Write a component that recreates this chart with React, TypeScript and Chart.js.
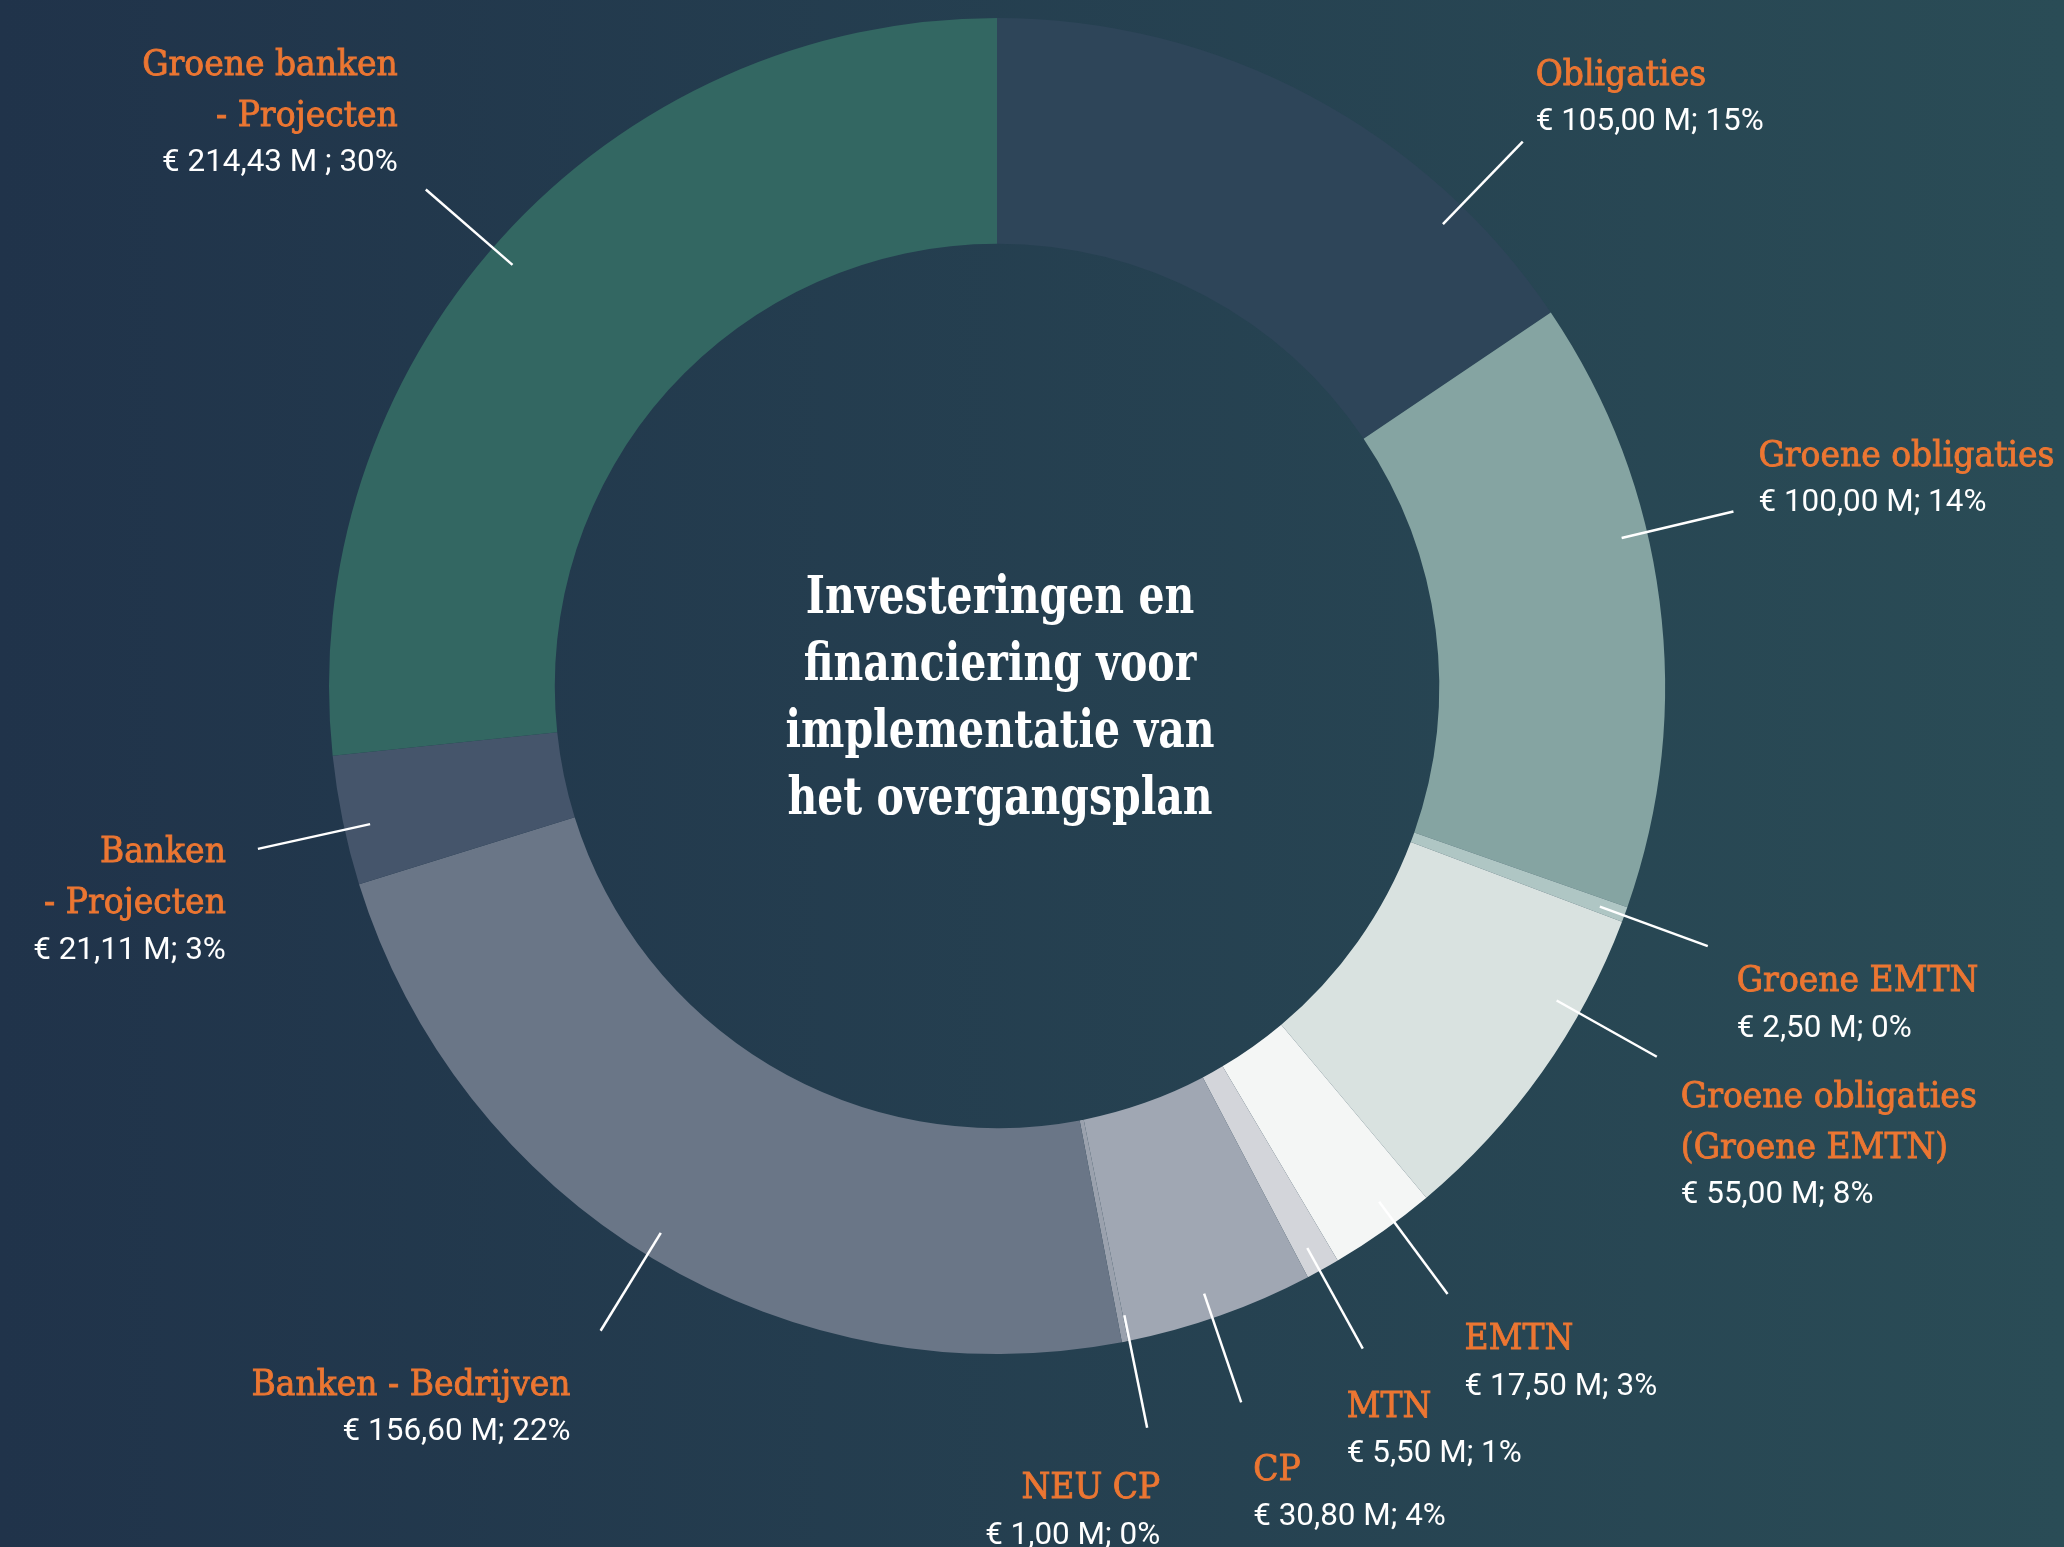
import React, { useEffect, useRef } from "react";
import { Chart, registerables } from "chart.js";

Chart.register(...registerables);

// ---------- data ----------
const categories = [
  "Obligaties",
  "Groene obligaties",
  "Groene EMTN",
  "Groene obligaties (Groene EMTN)",
  "EMTN",
  "MTN",
  "CP",
  "NEU CP",
  "Banken - Bedrijven",
  "Banken - Projecten",
  "Groene banken - Projecten",
];
const titleLines = [
  ["Obligaties"],
  ["Groene obligaties"],
  ["Groene EMTN"],
  ["Groene obligaties", "(Groene EMTN)"],
  ["EMTN"],
  ["MTN"],
  ["CP"],
  ["NEU CP"],
  ["Banken - Bedrijven"],
  ["Banken", "- Projecten"],
  ["Groene banken", "- Projecten"],
];
const valueLabels = [
  "€ 105,00 M; 15%",
  "€ 100,00 M; 14%",
  "€ 2,50 M; 0%",
  "€ 55,00 M; 8%",
  "€ 17,50 M; 3%",
  "€ 5,50 M; 1%",
  "€ 30,80 M; 4%",
  "€ 1,00 M; 0%",
  "€ 156,60 M; 22%",
  "€ 21,11 M; 3%",
  "€ 214,43 M ; 30%",
];
// slice sizes as drawn in the picture (M€)
const sliceValues = [105, 100, 2.5, 55, 17.5, 5.5, 30.8, 1, 156.6, 21.11, 180];
const centerTitle = ["Investeringen en", "financiering voor", "implementatie van", "het overgangsplan"];

// ---------- styles ----------
const sliceColors = [
  "#2e4559",
  "#85a4a2",
  "#afc6c4",
  "#d9e2e0",
  "#f4f6f5",
  "#d3d5da",
  "#a0a7b3",
  "#9aa1ad",
  "#6a7687",
  "#45556b",
  "#336762",
];
const leaderAngleShift = [16.0, -6.0, 0.1, -6.0, -1.2, 0.3, 0.7, -0.4, 0.6, -0.8, -1.0];
const labelAlign = ["left", "left", "left", "left", "left", "left", "left", "right", "right", "right", "right"];
const labelOffset = [
  [13, -66],
  [25, -55],
  [29, 36],
  [24, 41],
  [17, 46],
  [-16, 59],
  [12, 68],
  [13, 61],
  [-30, 55],
  [-32, 4],
  [-28, -124],
];
const ORANGE = "#ec7632";
const TITLE_FONT = "'DejaVu Serif'";
const VALUE_FONT = "Roboto";

const labelsPlugin = {
  id: "leaderLabels",
  afterDatasetsDraw(chart: any) {
    const ctx: CanvasRenderingContext2D = chart.ctx;
    const meta = chart.getDatasetMeta(0);
    ctx.save();

    const titleSize = 36;
    ctx.font = `${titleSize}px ${TITLE_FONT}`;
    const titleSx = 296 / ctx.measureText("Groene obligaties").width;
    const valueSize = 31;
    ctx.font = `${valueSize}px ${VALUE_FONT}`;
    const valueSx = 228 / ctx.measureText("€ 105,00 M; 15%").width;

    meta.data.forEach((arc: any, i: number) => {
      const R = arc.outerRadius;
      const a = (arc.startAngle + arc.endAngle) / 2 + (leaderAngleShift[i] * Math.PI) / 180;
      const r1 = R * 0.961;
      const r2 = R * 1.133;
      const x1 = arc.x + r1 * Math.cos(a);
      const y1 = arc.y + r1 * Math.sin(a);
      const x2 = arc.x + r2 * Math.cos(a);
      const y2 = arc.y + r2 * Math.sin(a);
      ctx.strokeStyle = "#ffffff";
      ctx.lineWidth = 2.5;
      ctx.beginPath();
      ctx.moveTo(x1, y1);
      ctx.lineTo(x2, y2);
      ctx.stroke();

      const ax = x2 + labelOffset[i][0];
      const ay = y2 + labelOffset[i][1];
      ctx.textAlign = labelAlign[i] as CanvasTextAlign;
      ctx.textBaseline = "middle";
      const lines = titleLines[i];
      ctx.fillStyle = ORANGE;
      ctx.strokeStyle = ORANGE;
      ctx.lineWidth = 0.9;
      ctx.font = `${titleSize}px ${TITLE_FONT}`;
      lines.forEach((t, k) => {
        ctx.save();
        ctx.translate(ax, ay + k * 51);
        ctx.scale(titleSx, 1);
        ctx.fillText(t, 0, 0);
        ctx.strokeText(t, 0, 0);
        ctx.restore();
      });
      ctx.fillStyle = "#ffffff";
      ctx.font = `${valueSize}px ${VALUE_FONT}`;
      ctx.save();
      ctx.translate(ax, ay + (lines.length - 1) * 51 + 47);
      ctx.scale(valueSx, 1);
      ctx.fillText(valueLabels[i], 0, 0);
      ctx.restore();
    });

    // center title
    const cx = meta.data[0].x;
    const cy = meta.data[0].y;
    const cSize = 52;
    ctx.font = `bold ${cSize}px ${TITLE_FONT}`;
    const cSx = 429 / ctx.measureText("implementatie van").width;
    ctx.fillStyle = "#ffffff";
    ctx.textAlign = "center";
    ctx.textBaseline = "middle";
    centerTitle.forEach((t, k) => {
      ctx.save();
      ctx.translate(cx + 3, cy + 14 + (k - 1.5) * 67);
      ctx.scale(cSx, 1);
      ctx.fillText(t, 0, 0);
      ctx.restore();
    });
    ctx.restore();
  },
};

export default function App() {
  const ref = useRef<HTMLCanvasElement | null>(null);
  useEffect(() => {
    const prevMargin = document.body.style.margin;
    document.body.style.margin = "0";
    const canvas = ref.current!;
    const chart = new Chart(canvas, {
      type: "doughnut",
      data: {
        labels: categories,
        datasets: [
          {
            data: sliceValues,
            backgroundColor: sliceColors,
            borderWidth: 0,
            hoverOffset: 0,
            offset: 0,
          },
        ],
      },
      options: {
        responsive: false,
        animation: false,
        events: [],
        cutout: "66.2%",
        layout: { padding: { left: 329, right: 399, top: 18, bottom: 193 } },
        plugins: {
          legend: { display: false },
          tooltip: { enabled: false },
        },
      },
      plugins: [labelsPlugin],
    });
    return () => {
      chart.destroy();
      document.body.style.margin = prevMargin;
    };
  }, []);

  return (
    <div
      style={{
        position: "fixed",
        left: 0,
        top: 0,
        width: 2064,
        height: 1547,
        background: "linear-gradient(to right, #20334a, #2a4c56)",
        overflow: "hidden",
      }}
    >
      <canvas ref={ref} width={2064} height={1547} style={{ width: 2064, height: 1547, display: "block" }} />
    </div>
  );
}
